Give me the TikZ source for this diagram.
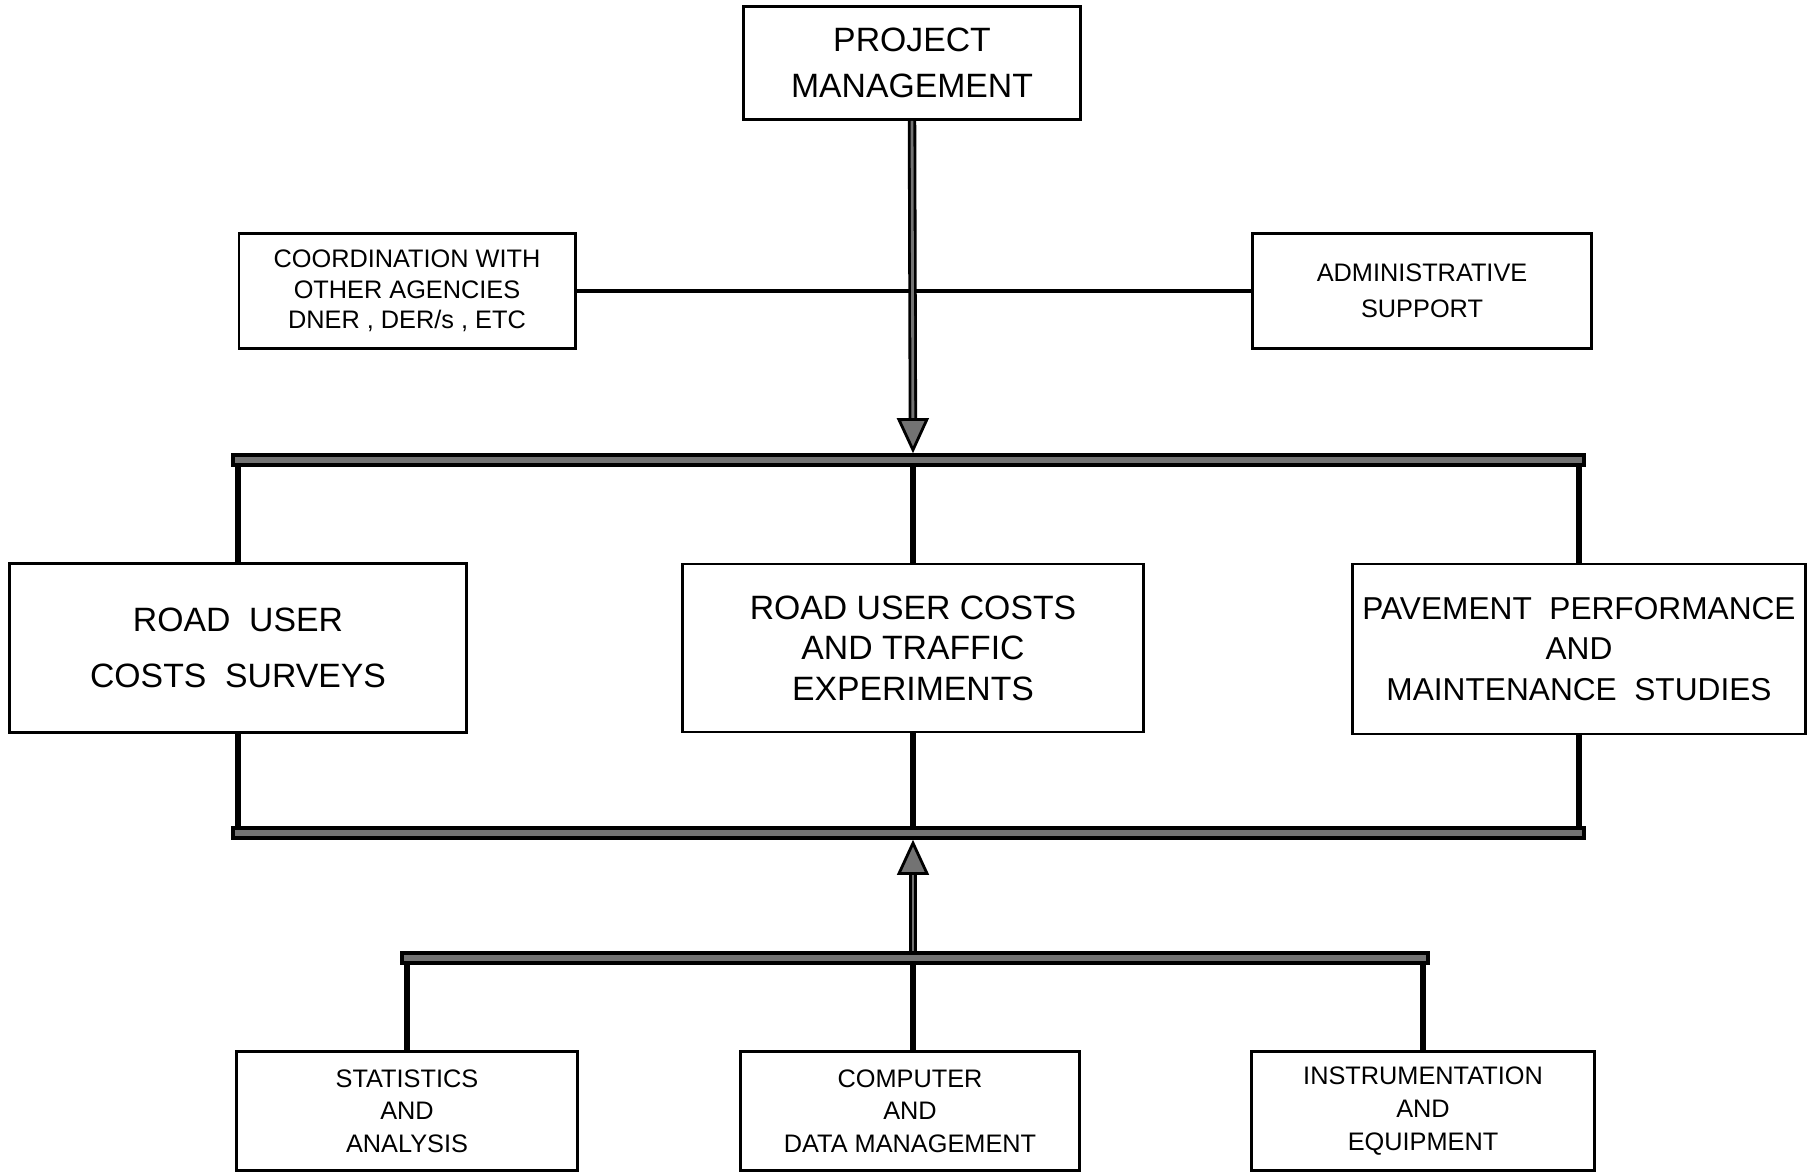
\documentclass[tikz,border=0pt]{standalone}
\usepackage{fontspec}
\setmainfont{Liberation Sans}
\usetikzlibrary{arrows.meta}

\begin{document}
\begin{tikzpicture}[x=0.01cm, y=-0.01cm, line join=miter,
    box/.style={draw, line width=0.8pt, inner sep=0pt, align=center},
    bigtext/.style={font=\fontsize{9.6}{11.5}\selectfont},
    smalltext/.style={font=\fontsize{7.2}{9.3}\selectfont},
    tie/.style={line width=1.6pt},
    busline/.style={line width=3.8pt, line cap=rect},
    busfill/.style={line width=1.8pt, line cap=rect, draw=black!55},
    feed/.style={line width=2.4pt,
      -{Triangle[width=9pt, length=10pt, fill=black!55, line width=0.8pt]}},
    core/.style={line width=0.8pt, draw=black!55}]

  \fill[white] (0,0) rectangle (1819,1173);
  \useasboundingbox (0,0) rectangle (1819,1173);

  %--------------------------
  % Top level
  %--------------------------
  \node[box, bigtext, font=\fontsize{9.6}{13.2}\selectfont,
        minimum width=3.37cm, minimum height=1.13cm] (pm) at (912,63)
        {PROJECT\\MANAGEMENT};

  \node[box, smalltext, font=\fontsize{7.2}{8.6}\selectfont,
        minimum width=3.36cm, minimum height=1.15cm] (coord) at (407,291)
        {COORDINATION WITH\\OTHER AGENCIES\\DNER , DER/s , ETC\rule{0pt}{0pt}};
  \node[box, smalltext, font=\fontsize{7.2}{10.2}\selectfont,
        minimum width=3.39cm, minimum height=1.15cm] (admin) at (1422,291)
        {ADMINISTRATIVE\\SUPPORT};

  %--------------------------
  % Studies
  %--------------------------
  \node[box, bigtext, font=\fontsize{9.6}{16}\selectfont,
        minimum width=4.57cm, minimum height=1.69cm] (rucs) at (238,648)
        {ROAD~~USER\\COSTS~~SURVEYS};
  \node[box, bigtext, minimum width=4.60cm, minimum height=1.68cm]
        (rute) at (913,648) {ROAD USER COSTS\\AND TRAFFIC\\EXPERIMENTS};
  \node[box, bigtext, font=\fontsize{9}{11.5}\selectfont,
        minimum width=4.53cm, minimum height=1.70cm] (pav) at (1579,649)
        {PAVEMENT~~PERFORMANCE\\AND\\MAINTENANCE~~STUDIES};

  %--------------------------
  % Support services
  %--------------------------
  \node[box, smalltext, minimum width=3.40cm, minimum height=1.19cm]
        (stat) at (407,1111) {STATISTICS\\AND\\ANALYSIS};
  \node[box, smalltext, minimum width=3.39cm, minimum height=1.19cm]
        (comp) at (910,1111) {COMPUTER\\AND\\DATA MANAGEMENT};
  \node[box, smalltext, minimum width=3.43cm, minimum height=1.19cm]
        (instr) at (1423,1111) {INSTRUMENTATION\\AND\\EQUIPMENT};

  % Bus levels
  \coordinate (tb) at (913,460);
  \coordinate (mb) at (913,833);
  \coordinate (lb) at (913,958);

  % Side line
  \draw[line width=0.9pt] (coord.east) -- (admin.west);

  % Drops to the boxes
  \foreach \n in {rucs, rute, pav} {
    \draw[tie] (\n.north) -- (\n.north |- tb);
    \draw[tie] (\n.south) -- (\n.south |- mb);
  }
  \foreach \n in {stat, instr} {
    \draw[tie] (\n.north) -- (\n.north |- lb);
  }
  \draw[tie] (lb) -- (lb |- comp.north);

  % Main feeds
  \draw[feed, shorten >=1.9pt] (pm.south) -- (tb);
  \draw[core, shorten >=12pt] (pm.south) -- (tb);
  \draw[feed, shorten >=1.9pt, shorten <=1.9pt] (lb) -- (mb);
  \draw[core, shorten >=12pt, shorten <=1.9pt] (lb) -- (mb);

  % Buses
  \foreach \a/\b/\y in {rucs/pav/tb, rucs/pav/mb, stat/instr/lb} {
    \draw[busline] (\a.north |- \y) -- (\b.north |- \y);
    \draw[busfill] (\a.north |- \y) -- (\b.north |- \y);
  }

\end{tikzpicture}
\end{document}
